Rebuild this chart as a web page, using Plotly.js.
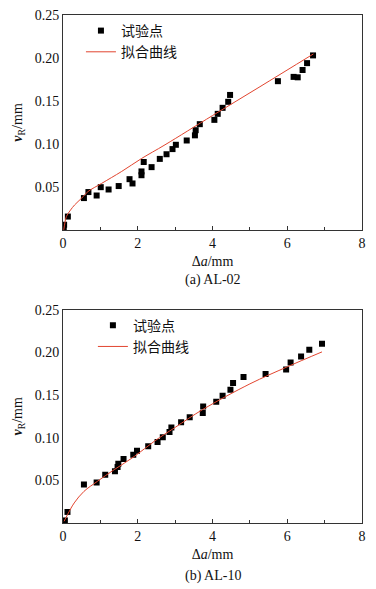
<!DOCTYPE html>
<html>
<head>
<meta charset="utf-8">
<script src="https://cdn.plot.ly/plotly-3.0.1.min.js"></script>
<style>html,body{margin:0;padding:0;background:#fff;}#chart{width:376px;height:589px;}</style>
</head>
<body>
<div id="chart"></div>
<script>
// (a) AL-02 test points
var aPointX = [0.02,0.03,0.13,0.56,0.68,0.9,1.01,1.22,1.49,1.78,1.86,2.1,2.1,2.16,2.37,2.59,2.77,2.93,3.02,3.31,3.53,3.55,3.66,4.05,4.14,4.27,4.42,4.47,5.75,6.17,6.28,6.41,6.53,6.69];
var aPointY = [0.002,0.006,0.0155,0.037,0.044,0.040,0.0497,0.047,0.051,0.059,0.054,0.068,0.0636,0.079,0.073,0.0826,0.088,0.094,0.099,0.104,0.110,0.116,0.123,0.128,0.135,0.142,0.149,0.157,0.173,0.178,0.1775,0.186,0.194,0.203];
// (a) fitted curve
var aFitX = [0.02,0.05,0.09,0.2,0.31,0.5,0.67,1.03,1.57,2.1,2.73,4.0,5.27,6.7];
var aFitY = [0.0,0.008,0.0155,0.023,0.029,0.037,0.0446,0.054,0.068,0.083,0.099,0.133,0.1666,0.2047];
// (b) AL-10 test points
var bPointX = [0.05,0.12,0.56,0.9,1.13,1.39,1.46,1.48,1.62,1.88,1.98,2.28,2.53,2.67,2.85,2.9,3.16,3.39,3.74,3.75,4.1,4.27,4.48,4.55,4.83,5.42,5.97,6.09,6.37,6.59,6.93];
var bPointY = [0.003,0.013,0.045,0.0476,0.0566,0.0605,0.0657,0.0695,0.075,0.080,0.0848,0.0898,0.095,0.1004,0.1067,0.112,0.118,0.124,0.129,0.1364,0.142,0.149,0.156,0.164,0.171,0.1747,0.180,0.188,0.195,0.203,0.210];
// (b) fitted curve
var bFitX = [0.03,0.12,0.3,0.56,0.92,1.37,1.91,2.45,3.0,3.74,5.0,6.0,6.93];
var bFitY = [0.002,0.0097,0.0235,0.037,0.0488,0.0625,0.078,0.096,0.112,0.133,0.163,0.183,0.2005];
// labels
var legPoint = '试验点';
var legFit = '拟合曲线';
var xTickVals = [0,2,4,6,8];
var yTickVals = [0.05,0.10,0.15,0.20,0.25];
var captions = ['(a) AL-02','(b) AL-10'];

var serif = 'Liberation Serif, Times New Roman, serif';
var cjk = 'Liberation Serif, Noto Sans CJK SC, serif';
var red = '#e2452f';

var traces = [
  {x:aPointX, y:aPointY, type:'scatter', mode:'markers', name:legPoint, xaxis:'x', yaxis:'y', legend:'legend',
   marker:{symbol:'square', size:6, color:'#000'}},
  {x:aFitX, y:aFitY, type:'scatter', mode:'lines', name:legFit, xaxis:'x', yaxis:'y', legend:'legend',
   line:{color:red, width:1, shape:'spline'}},
  {x:bPointX, y:bPointY, type:'scatter', mode:'markers', name:legPoint, xaxis:'x2', yaxis:'y2', legend:'legend2',
   marker:{symbol:'square', size:6, color:'#000'}},
  {x:bFitX, y:bFitY, type:'scatter', mode:'lines', name:legFit, xaxis:'x2', yaxis:'y2', legend:'legend2',
   line:{color:red, width:1, shape:'spline'}}
];

function xax(anchor){
  return {anchor:anchor, range:[0,8], tickvals:xTickVals, ticks:'inside', ticklen:4, tickcolor:'#333',
    minor:{tickvals:[1,3,5,7], ticks:'inside', ticklen:3, tickcolor:'#333'},
    showline:true, mirror:true, linecolor:'#333', linewidth:1, showgrid:false, zeroline:false,
    tickfont:{family:serif, size:14, color:'#111'},
    title:{text:'Δ<i>a</i>/mm', font:{family:serif, size:14, color:'#111'}, standoff:6}};
}
function yax(anchor, domain){
  return {anchor:anchor, domain:domain, range:[0,0.25], tickvals:yTickVals, tickformat:'.2f', ticks:'',
    showline:true, mirror:true, linecolor:'#333', linewidth:1, showgrid:false, zeroline:false,
    tickfont:{family:serif, size:14, color:'#111'},
    title:{text:'<b><i>v</i></b><sub>R</sub>/mm', font:{family:serif, size:14, color:'#111'}, standoff:8}};
}

var layout = {
  width:376, height:589,
  margin:{l:63, r:14, t:15, b:66},
  paper_bgcolor:'#fff', plot_bgcolor:'#fff',
  showlegend:true,
  xaxis: xax('y'),
  yaxis: yax('x',[0.577,1]),
  xaxis2: xax('y2'),
  yaxis2: yax('x2',[0,0.42]),
  legend:{x:0.06, y:1.0, xanchor:'left', yanchor:'top', bgcolor:'rgba(0,0,0,0)',
    font:{family:cjk, size:14, color:'#111'}, tracegroupgap:0},
  legend2:{x:0.1, y:0.42, xanchor:'left', yanchor:'top', bgcolor:'rgba(0,0,0,0)',
    font:{family:cjk, size:14, color:'#111'}, tracegroupgap:0},
  annotations:[
    {text:captions[0], xref:'paper', yref:'paper', x:0.5, y:0.577, yshift:-50, showarrow:false,
     xanchor:'center', yanchor:'middle', font:{family:serif, size:14, color:'#111'}},
    {text:captions[1], xref:'paper', yref:'paper', x:0.5, y:0, yshift:-53, showarrow:false,
     xanchor:'center', yanchor:'middle', font:{family:serif, size:14, color:'#111'}}
  ]
};

Plotly.newPlot('chart', traces, layout, {displayModeBar:false, staticPlot:true});
</script>
</body>
</html>
